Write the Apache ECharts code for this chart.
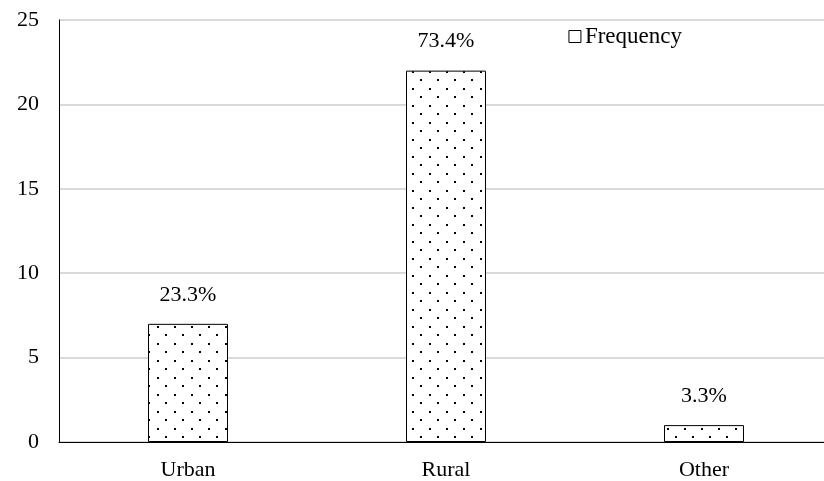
<!DOCTYPE html>
<html><head><meta charset="utf-8">
<script src="https://cdn.jsdelivr.net/npm/echarts@6/dist/echarts.min.js"></script>
<style>html,body{margin:0;padding:0;background:#fff;overflow:hidden}#c{width:833px;height:481px}</style>
</head><body><div id="c"></div>
<script>
var categories = ['Urban', 'Rural', 'Other'];
var frequency = [7, 22, 1];
var percentLabels = ['23.3%', '73.4%', '3.3%'];
var yTicks = [0, 5, 10, 15, 20, 25];

var pc = document.createElement('canvas');
pc.width = 17; pc.height = 17;
var g = pc.getContext('2d');
g.fillStyle = '#fff'; g.fillRect(0, 0, 17, 17);
g.fillStyle = '#000';
g.fillRect(4, 3, 2, 2);
g.fillRect(12, 11, 2, 2);

var font = 'Liberation Serif';
var chart = echarts.init(document.getElementById('c'));
chart.setOption({
  animation: false,
  textStyle: {fontFamily: font},
  legend: {
    data: ['Frequency'], right: 146, top: 20, itemWidth: 12, itemHeight: 12, itemGap: 4,
    icon: 'rect',
    textStyle: {fontFamily: font, fontSize: 23, color: '#000', padding: [0,0,0,-1]},
    itemStyle: {color: '#fff', borderColor: '#000', borderWidth: 1}
  },
  grid: {left: 59, right: 0, top: 20, bottom: 39, containLabel: false},
  xAxis: {
    type: 'category', data: categories,
    axisLine: {lineStyle: {color: '#000', width: 1}},
    axisTick: {show: false},
    axisLabel: {fontFamily: font, fontSize: 22, color: '#000', margin: 17}
  },
  yAxis: {
    type: 'value', min: yTicks[0], max: yTicks[yTicks.length - 1], interval: 5,
    axisLine: {show: true, lineStyle: {color: '#000', width: 1}},
    axisTick: {show: false},
    axisLabel: {fontFamily: font, fontSize: 22, color: '#000', margin: 20},
    splitLine: {lineStyle: {color: '#d9d9d9', width: 2}}
  },
  series: [{
    name: 'Frequency', type: 'bar', data: frequency, barWidth: '31%',
    itemStyle: {color: {image: pc, repeat: 'repeat'}, borderColor: '#000', borderWidth: 1},
    label: {
      show: true, position: 'top', distance: 18,
      fontFamily: font, fontSize: 22, color: '#000',
      formatter: function (p) { return percentLabels[p.dataIndex]; }
    }
  }]
});
</script></body></html>
